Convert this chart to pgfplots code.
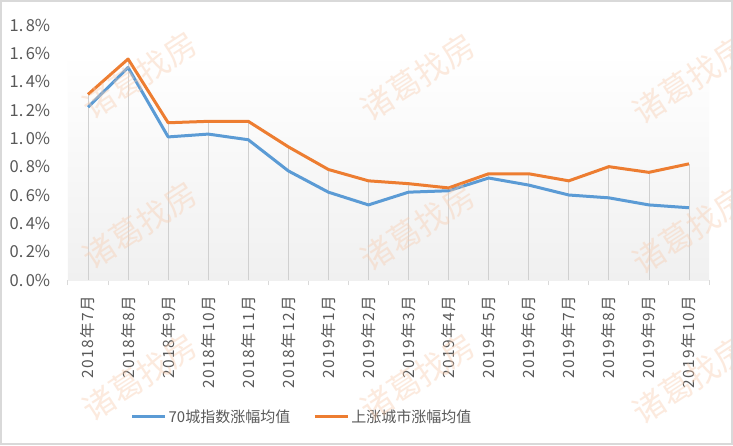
\documentclass[border=0pt]{standalone}
\usepackage{fontspec}
\usepackage{pgfplots}
\usepackage{pgfplotstable}
\pgfplotsset{compat=1.18}
\newfontfamily\cjkl{Noto Sans CJK SC}
\newcommand\g{\kern1.5pt}
\definecolor{cblue}{HTML}{5B9BD5}
\definecolor{corange}{HTML}{ED7D31}
\definecolor{ctext}{HTML}{595959}
\definecolor{cgrid}{HTML}{D9D9D9}
\definecolor{cdrop}{HTML}{D0D0D0}
\definecolor{cgrad}{HTML}{F0F0F0}
\definecolor{cwm}{HTML}{F8CBAD}
\definecolor{cborder}{HTML}{D9D9D9}
\pgfplotstableread{
x y
0 1.22
1 1.50
2 1.01
3 1.03
4 0.99
5 0.77
6 0.62
7 0.53
8 0.62
9 0.63
10 0.72
11 0.67
12 0.60
13 0.58
14 0.53
15 0.51
}\blue
\pgfplotstableread{
x y
0 1.31
1 1.56
2 1.11
3 1.12
4 1.12
5 0.94
6 0.78
7 0.70
8 0.68
9 0.65
10 0.75
11 0.75
12 0.70
13 0.80
14 0.76
15 0.82
}\orange
\begin{document}
\begin{tikzpicture}
\fill[white] (-68pt,280pt) rectangle (665pt,-165pt);
\begin{axis}[anchor=south west, scale only axis,
  width=641pt, height=255pt,
  xmin=-0.5, xmax=15.5, ymin=0, ymax=1.8,
  axis x line*=bottom, axis y line*=left,
  axis line style={-},
  x axis line style={draw=cgrid, line width=1pt},
  y axis line style={draw=none},
  ytick={0,0.2,0.4,0.6,0.8,1.0,1.2,1.4,1.6,1.8},
  yticklabels={0.\kern2.5pt0\%,0.\kern2.5pt2\%,0.\kern2.5pt4\%,0.\kern2.5pt6\%,0.\kern2.5pt8\%,1.\kern2.5pt0\%,1.\kern2.5pt2\%,1.\kern2.5pt4\%,1.\kern2.5pt6\%,1.\kern2.5pt8\%},
  ytick style={draw=none},
  xtick style={draw=none},
  tick align=outside,
  xtick={0,...,15},
  xticklabels={2\g{}0\g{}1\g{}8\g{}年\g{}7\g{}月,2\g{}0\g{}1\g{}8\g{}年\g{}8\g{}月,2\g{}0\g{}1\g{}8\g{}年\g{}9\g{}月,2\g{}0\g{}1\g{}8\g{}年\g{}1\g{}0\g{}月,2\g{}0\g{}1\g{}8\g{}年\g{}1\g{}1\g{}月,2\g{}0\g{}1\g{}8\g{}年\g{}1\g{}2\g{}月,2\g{}0\g{}1\g{}9\g{}年\g{}1\g{}月,2\g{}0\g{}1\g{}9\g{}年\g{}2\g{}月,2\g{}0\g{}1\g{}9\g{}年\g{}3\g{}月,2\g{}0\g{}1\g{}9\g{}年\g{}4\g{}月,2\g{}0\g{}1\g{}9\g{}年\g{}5\g{}月,2\g{}0\g{}1\g{}9\g{}年\g{}6\g{}月,2\g{}0\g{}1\g{}9\g{}年\g{}7\g{}月,2\g{}0\g{}1\g{}9\g{}年\g{}8\g{}月,2\g{}0\g{}1\g{}9\g{}年\g{}9\g{}月,2\g{}0\g{}1\g{}9\g{}年\g{}1\g{}0\g{}月},
  x tick label style={rotate=90, anchor=east, font=\cjkl\fontsize{15.5}{18}\selectfont, text=ctext},
  y tick label style={font=\cjkl\fontsize{16.5}{18}\selectfont, text=ctext, anchor=east},
  xticklabel shift=8pt,
  yticklabel shift=10pt,
  extra x ticks={-0.5,0.5,1.5,2.5,3.5,4.5,5.5,6.5,7.5,8.5,9.5,10.5,11.5,12.5,13.5,14.5,15.5},
  extra x tick labels={},
  extra x tick style={xtick style={draw=cgrid, line width=1pt}, major tick length=5pt, tick align=outside},
  legend style={at={(0.365,-0.537)}, anchor=center, draw=none, fill=none,
    legend columns=2, font=\cjkl\fontsize{15}{18}\selectfont, text=ctext,
    /tikz/every even column/.append style={column sep=21pt}},
  legend image code/.code={\draw[#1, line width=3pt] (0pt,0pt) -- (33pt,0pt);},
]
\fill[top color=white, bottom color=cgrad] (axis cs:-0.5,0) rectangle (axis cs:15.5,1.6);
\addplot[ycomb, draw=cdrop, line width=0.8pt, forget plot] table[x=x,y=y] {\orange};
\addplot[cblue, line width=3pt, line join=round] table[x=x,y=y] {\blue};
\addlegendentry{70城指数涨幅均值}
\addplot[corange, line width=3pt, line join=round] table[x=x,y=y] {\orange};
\addlegendentry{上涨城市涨幅均值}
\end{axis}
\begin{scope}
\clip (-68pt,280pt) rectangle (665pt,-165pt);
\foreach \px/\py in {72/205,72/55,72/-97,350/203,350/53,350/-97,622/200,622/50,622/-100}{
  \node[rotate=33, text=cwm, opacity=0.4, font=\cjkl\fontsize{32}{34}\selectfont] at (\px pt,\py pt) {诸葛找房};
}
\end{scope}
\draw[cborder, line width=2pt] (-67pt,279pt) rectangle (664pt,-164pt);
\pgfresetboundingbox
\path[use as bounding box] (-68pt,280pt) rectangle (665pt,-165pt);
\end{tikzpicture}
\end{document}
